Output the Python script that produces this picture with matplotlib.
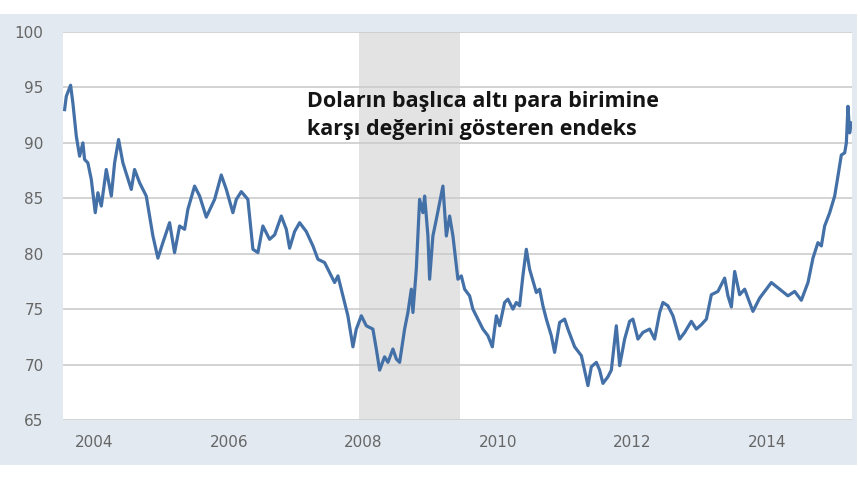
import matplotlib
matplotlib.use("Agg")
import matplotlib.pyplot as plt
from matplotlib.patches import Rectangle

# dollar index vs six major currencies (decimal years)
years = [
    2003.554, 2003.579, 2003.643, 2003.677, 2003.728, 2003.777, 2003.826, 2003.851,
    2003.900, 2003.951, 2004.010, 2004.049, 2004.100, 2004.174, 2004.249, 2004.298,
    2004.357, 2004.421, 2004.546, 2004.595, 2004.670, 2004.769, 2004.868, 2004.942,
    2005.016, 2005.116, 2005.190, 2005.265, 2005.339, 2005.388, 2005.488, 2005.563,
    2005.662, 2005.786, 2005.885, 2005.960, 2006.058, 2006.109, 2006.183, 2006.281,
    2006.356, 2006.430, 2006.504, 2006.604, 2006.679, 2006.778, 2006.853, 2006.902,
    2006.976, 2007.051, 2007.150, 2007.249, 2007.323, 2007.423, 2007.497, 2007.571,
    2007.621, 2007.695, 2007.769, 2007.844, 2007.894, 2007.969, 2008.043, 2008.141,
    2008.192, 2008.241, 2008.315, 2008.365, 2008.439, 2008.490, 2008.539, 2008.613,
    2008.662, 2008.713, 2008.737, 2008.787, 2008.836, 2008.885, 2008.911, 2008.960,
    2008.985, 2009.034, 2009.085, 2009.134, 2009.183, 2009.234, 2009.283, 2009.332,
    2009.406, 2009.457, 2009.506, 2009.580, 2009.629, 2009.704, 2009.778, 2009.853,
    2009.918, 2009.978, 2010.027, 2010.101, 2010.150, 2010.225, 2010.275, 2010.324,
    2010.373, 2010.424, 2010.473, 2010.573, 2010.622, 2010.671, 2010.722, 2010.796,
    2010.845, 2010.920, 2010.994, 2011.043, 2011.143, 2011.243, 2011.341, 2011.391,
    2011.466, 2011.515, 2011.564, 2011.638, 2011.689, 2011.763, 2011.813, 2011.887,
    2011.961, 2012.010, 2012.085, 2012.159, 2012.259, 2012.333, 2012.408, 2012.457,
    2012.531, 2012.606, 2012.705, 2012.780, 2012.879, 2012.954, 2013.028, 2013.103,
    2013.177, 2013.275, 2013.375, 2013.424, 2013.475, 2013.524, 2013.598, 2013.673,
    2013.796, 2013.896, 2014.070, 2014.193, 2014.317, 2014.417, 2014.516, 2014.615,
    2014.689, 2014.763, 2014.814, 2014.863, 2014.938, 2015.012, 2015.061, 2015.111,
    2015.161, 2015.186, 2015.210, 2015.235, 2015.260,
]
index_values = [
    93.0, 94.2, 95.2, 93.6, 90.6, 88.8, 90.0, 88.5,
    88.2, 86.7, 83.7, 85.5, 84.3, 87.6, 85.2, 88.2,
    90.3, 88.2, 85.8, 87.6, 86.4, 85.2, 81.6, 79.6,
    81.0, 82.8, 80.1, 82.5, 82.2, 84.0, 86.1, 85.2,
    83.3, 84.9, 87.1, 85.8, 83.7, 84.9, 85.6, 84.9,
    80.4, 80.1, 82.5, 81.3, 81.7, 83.4, 82.2, 80.5,
    82.0, 82.8, 82.0, 80.7, 79.5, 79.2, 78.3, 77.4,
    78.0, 76.2, 74.4, 71.6, 73.2, 74.4, 73.5, 73.2,
    71.4, 69.5, 70.7, 70.2, 71.4, 70.5, 70.2, 73.2,
    74.7, 76.8, 74.7, 78.6, 84.9, 83.7, 85.2, 81.6,
    77.7, 81.6, 83.1, 84.6, 86.1, 81.6, 83.4, 81.6,
    77.7, 78.0, 76.8, 76.2, 75.0, 74.1, 73.2, 72.6,
    71.6, 74.4, 73.5, 75.6, 75.9, 75.0, 75.6, 75.3,
    78.0, 80.4, 78.6, 76.5, 76.8, 75.3, 74.1, 72.6,
    71.1, 73.8, 74.1, 73.2, 71.6, 70.8, 68.1, 69.8,
    70.2, 69.5, 68.3, 68.9, 69.5, 73.5, 69.9, 72.3,
    73.9, 74.1, 72.3, 72.9, 73.2, 72.3, 74.7, 75.6,
    75.3, 74.4, 72.3, 72.9, 73.9, 73.2, 73.6, 74.1,
    76.3, 76.6, 77.8, 76.2, 75.2, 78.4, 76.3, 76.8,
    74.8, 76.0, 77.4, 76.8, 76.2, 76.6, 75.8, 77.4,
    79.6, 81.0, 80.7, 82.5, 83.7, 85.2, 87.0, 88.9,
    89.1, 90.0, 93.3, 90.9, 91.8,
]

recession = (2007.93, 2009.43)
y_ticks = [65, 70, 75, 80, 85, 90, 95, 100]
x_ticks = [2004, 2006, 2008, 2010, 2012, 2014]
note = "Doların başlıca altı para birimine\nkarşı değerini gösteren endeks"

fig = plt.figure(figsize=(8.6, 4.8), dpi=100, facecolor="white")
# light blue-grey frame behind the plot
fig.patches.append(Rectangle((0, 15 / 480), 857 / 860, 451 / 480,
                             transform=fig.transFigure, facecolor="#e2e9f1",
                             edgecolor="none", zorder=-10))

ax = fig.add_axes([63 / 860, 60 / 480, 789 / 860, 388 / 480])
ax.set_facecolor("white")
ax.axvspan(recession[0], recession[1], color="#e3e3e3", lw=0, zorder=1)
ax.plot(years, index_values, color="#4470a8", lw=2.3, zorder=3)

ax.set_xlim(2003.53, 2015.27)
ax.set_ylim(65, 100)
ax.set_yticks(y_ticks)
ax.set_xticks(x_ticks)
ax.set_xticklabels([str(t) for t in x_ticks])
ax.grid(axis="y", color="#cccccc", lw=1.2, zorder=2)
ax.grid(axis="x", visible=False)
for s in ax.spines.values():
    s.set_visible(False)
ax.tick_params(length=0, labelsize=11, labelcolor="#666666")
ax.tick_params(axis="y", pad=14)
ax.tick_params(axis="x", pad=11)

ax.text(0.309, 0.785, note, transform=ax.transAxes, ha="left", va="center",
        fontsize=15.5, fontweight="bold", family=["Open Sans", "DejaVu Sans"],
        color="#141414", linespacing=1.4, zorder=4)

fig.savefig("out.png", dpi=100, facecolor="white")
